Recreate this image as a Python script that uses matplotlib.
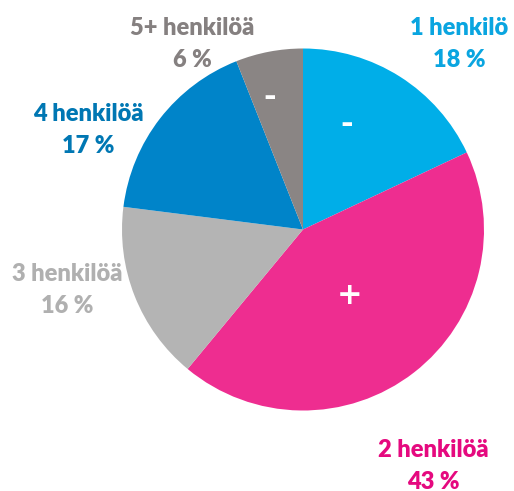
import matplotlib.pyplot as plt

# household size shares, clockwise from 12 o'clock
labels = ['1 henkilö', '2 henkilöä', '3 henkilöä', '4 henkilöä', '5+ henkilöä']
shares = [18, 43, 16, 17, 6]
signs = ['-', '+', '', '', '-']

slice_colors = ['#00AEE8', '#EE2D90', '#B4B4B4', '#0084C9', '#8A8584']
text_colors = ['#0AA5E0', '#E5097F', '#B0B0B0', '#0077B3', '#858080']

# label centres in pixel coords (x, y from top)
label_pos = [(459, 28), (433, 450), (67, 274), (88, 114), (192, 28)]
sign_pos = [(347, 124), (350, 296), None, None, (270, 97)]

W, H = 514, 491
fig = plt.figure(figsize=(W / 100, H / 100), dpi=100)
ax = fig.add_axes([0, 0, 1, 1])

ax.pie(shares, colors=slice_colors, startangle=90, counterclock=False,
       center=(303, H - 229.5), radius=181, frame=True,
       wedgeprops=dict(linewidth=0))
ax.set_xlim(0, W)
ax.set_ylim(0, H)
ax.set_aspect('equal')
ax.axis('off')

font = dict(family=['Lato', 'DejaVu Sans'], weight='heavy', fontsize=17)
for lab, val, col, (x, y) in zip(labels, shares, text_colors, label_pos):
    ax.text(x, H - y, lab, color=col, ha='center', va='center', **font)
    ax.text(x, H - y - 32, f'{val} %', color=col, ha='center', va='center', **font)

for s, p in zip(signs, sign_pos):
    if p is None:
        continue
    ax.text(p[0], H - p[1], s, color='white', ha='center', va='center',
            family='DejaVu Sans', weight='bold', fontsize=22)

fig.savefig('out.png', dpi=100)
